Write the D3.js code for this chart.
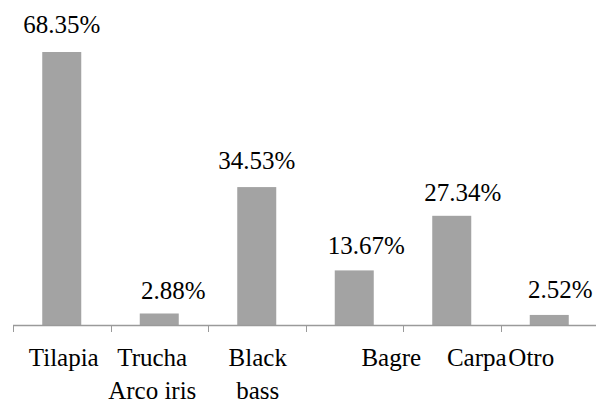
<!DOCTYPE html>
<html>
<head>
<meta charset="utf-8">
<script src="https://cdn.jsdelivr.net/npm/d3@7"></script>
<style>
  html, body { margin: 0; padding: 0; background: #fff; }
  svg { display: block; }
</style>
</head>
<body>
<svg id="chart" width="596" height="407"></svg>
<script>
// Species share (%)
const categories = ["Tilapia", "Trucha|Arco iris", "Black|bass", "Bagre", "Carpa", "Otro"];
const values = [68.35, 2.88, 34.53, 13.67, 27.34, 2.52];
const valueLabels = ["68.35%", "2.88%", "34.53%", "13.67%", "27.34%", "2.52%"];

// Label placement tweaks (px)
const valueLabelDx = [0, 14, 0, 12, 11, 11];
const valueLabelDy = [-19, -14, -18, -16, -15, -17];
const catLabelDx = [2, -7, 1, 37, 25, -18];

const FONT = '"Liberation Serif"';

const svg = d3.select("#chart");
const baseY = 325;

const x = d3.scaleBand()
  .domain(categories)
  .range([13, 598])
  .paddingInner(0.6)
  .paddingOuter(0.3);

const y = d3.scaleLinear()
  .domain([0, 70])
  .range([baseY, baseY - 70 * 3.994]);

const gap = x.step() * x.paddingInner();

// bars
svg.append("g").selectAll("rect")
  .data(values)
  .join("rect")
  .attr("x", (d, i) => x(categories[i]))
  .attr("y", d => y(d))
  .attr("width", x.bandwidth())
  .attr("height", d => baseY - y(d))
  .attr("fill", "#a3a3a3");

// category axis
const axis = svg.append("g").attr("stroke", "#9a9a9a");
axis.append("line")
  .attr("x1", 13).attr("x2", 596)
  .attr("y1", baseY + 0.5).attr("y2", baseY + 0.5)
  .attr("stroke-width", 1.5);
axis.selectAll("line.tick")
  .data(categories)
  .join("line")
  .attr("class", "tick")
  .attr("x1", d => Math.round(x(d) - gap / 2) + 0.5)
  .attr("x2", d => Math.round(x(d) - gap / 2) + 0.5)
  .attr("y1", baseY)
  .attr("y2", baseY + 7)
  .attr("stroke-width", 1);

// value labels
svg.append("g").selectAll("text")
  .data(values)
  .join("text")
  .attr("x", (d, i) => x(categories[i]) + x.bandwidth() / 2 + valueLabelDx[i])
  .attr("y", (d, i) => y(d) + valueLabelDy[i])
  .attr("text-anchor", "middle")
  .style("font-family", FONT)
  .style("font-size", "25px")
  .attr("fill", "#000")
  .text((d, i) => valueLabels[i]);

// category labels (two-line where split by "|")
const cat = svg.append("g").selectAll("text")
  .data(categories)
  .join("text")
  .attr("text-anchor", "middle")
  .style("font-family", FONT)
  .style("font-size", "25px")
  .attr("fill", "#000")
  .attr("transform", (d, i) => `translate(${x(d) + x.bandwidth() / 2 + catLabelDx[i]},366)`);
cat.selectAll("tspan")
  .data(d => d.split("|"))
  .join("tspan")
  .attr("x", 0)
  .attr("dy", (d, j) => j === 0 ? 0 : 33)
  .text(d => d);
</script>
</body>
</html>
